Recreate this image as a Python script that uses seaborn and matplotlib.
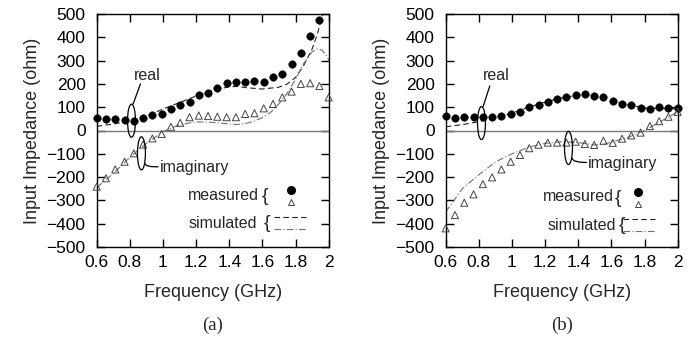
import numpy as np
import pandas as pd
import matplotlib
matplotlib.use("Agg")
import matplotlib.pyplot as plt
from matplotlib.patches import Ellipse
import seaborn as sns

# ---------------- data ----------------
freq_meas = [0.6 + 0.056 * i for i in range(26)]

# panel (a)
a_real_meas = [52, 48, 48, 45, 42, 52, 66, 71, 91, 109, 124, 152, 162, 181, 205,
               209, 209, 212, 209, 230, 244, 287, 333, 405, 474]
a_imag_meas = [-241, -205, -167, -134, -98, -60, -34, -15, 16, 33, 57, 64, 62, 59,
               57, 57, 71, 74, 95, 114, 142, 167, 200, 203, 191, 142]
a_real_sim_f = [0.6, 0.7, 0.8, 0.9, 1.0, 1.1, 1.2, 1.3, 1.4, 1.45, 1.5, 1.6, 1.7,
                1.75, 1.8, 1.85, 1.9, 1.93, 1.96, 1.975]
a_real_sim = [18, 28, 40, 62, 92, 120, 148, 172, 188, 189, 184, 178, 186, 200,
              228, 280, 350, 410, 490, 530]
a_imag_sim_f = [0.6, 0.7, 0.8, 0.9, 1.0, 1.1, 1.2, 1.3, 1.4, 1.45, 1.5, 1.55, 1.6,
                1.65, 1.7, 1.75, 1.8, 1.85, 1.9, 1.93, 1.96, 1.99, 2.0]
a_imag_sim = [-245, -185, -115, -55, -5, 25, 37, 35, 28, 26, 30, 40, 55, 78, 115,
              160, 220, 288, 338, 350, 345, 318, 302]

# panel (b)
b_real_meas = [62, 52, 59, 57, 57, 59, 62, 71, 81, 100, 109, 124, 134, 145, 151,
               155, 148, 144, 125, 115, 110, 96, 93, 101, 97, 95]
b_imag_meas = [-420, -363, -310, -274, -230, -201, -167, -134, -105, -76, -61, -52,
               -52, -52, -48, -58, -62, -44, -53, -35, -21, -9, 19, 40, 59, 80]
b_real_sim_f = [0.6, 0.7, 0.8, 0.9, 1.0, 1.1, 1.2, 1.3, 1.4, 1.45, 1.5, 1.6, 1.7,
                1.8, 1.9, 2.0]
b_real_sim = [16, 25, 38, 55, 75, 100, 122, 140, 152, 153, 148, 128, 110, 97, 94, 93]
b_imag_sim_f = [0.6, 0.7, 0.8, 0.9, 1.0, 1.1, 1.2, 1.3, 1.4, 1.5, 1.55, 1.6, 1.7,
                1.8, 1.9, 2.0]
b_imag_sim = [-350, -250, -190, -135, -100, -72, -55, -48, -52, -62, -60, -50, -30,
              0, 40, 80]

x_ticks = [0.6, 0.8, 1.0, 1.2, 1.4, 1.6, 1.8, 2.0]
x_ticklabels = ["0.6", "0.8", "1", "1.2", "1.4", "1.6", "1.8", "2"]
y_ticks = list(range(-500, 501, 100))

# ---------------- style ----------------
sns.set_style("ticks")
plt.rcParams["font.family"] = ["Liberation Sans", "DejaVu Sans"]

fig = plt.figure(figsize=(7, 3.41), dpi=100)
W, H = 700.0, 341.0
ax1 = fig.add_axes([96.7 / W, 1 - 247 / H, 232 / W, 233 / H])
ax2 = fig.add_axes([445.7 / W, 1 - 247 / H, 232 / W, 233 / H])

DASH = (0, (5, 3))
DASHDOT = (0, (6, 2, 1, 2))
ANN = 11.5


def draw(ax, real_meas, imag_meas, rs_f, rs, is_f, is_, annot, caption):
    ax.axhline(0, color="#7a7a7a", lw=1.0, zorder=1)
    sns.lineplot(x=rs_f, y=rs, ax=ax, color="#222222", lw=0.8, linestyle=DASH,
                 sort=False, zorder=2)
    sns.lineplot(x=is_f, y=is_, ax=ax, color="#707070", lw=0.8, linestyle=DASHDOT,
                 sort=False, zorder=2)
    sns.scatterplot(x=freq_meas[:len(real_meas)], y=real_meas, ax=ax, marker="o",
                    s=30, color="black", edgecolor="black", linewidth=0.3,
                    zorder=3, clip_on=False)
    sns.scatterplot(x=freq_meas[:len(imag_meas)], y=imag_meas, ax=ax, marker="^",
                    s=26, facecolor="none", edgecolor="#444444", linewidth=0.7,
                    zorder=3, clip_on=False)

    ax.set_xlim(0.6, 2.0)
    ax.set_ylim(-500, 500)
    ax.set_xticks(x_ticks)
    ax.set_xticklabels(x_ticklabels)
    ax.set_yticks(y_ticks)
    ax.tick_params(direction="in", length=6, width=1.0, top=True, right=True,
                   labelsize=12.5, colors="black")
    ax.tick_params(axis="y", pad=8)
    ax.tick_params(axis="x", pad=6)
    for s in ax.spines.values():
        s.set_visible(True)
        s.set_linewidth(1.0)
        s.set_color("black")
    ax.set_xlabel("Frequency (GHz)", fontsize=13, labelpad=10)
    ax.set_ylabel("Input Impedance (ohm)", fontsize=13, labelpad=4)

    # annotations
    (re_c, re_line, re_txt, im_c, im_line, im_txt, leg) = annot
    ax.add_patch(Ellipse(re_c, 0.048, 142, fill=False, lw=0.9, color="black",
                         zorder=4))
    ax.plot(*re_line, color="black", lw=0.9)
    ax.text(re_txt[0], re_txt[1], "real", fontsize=ANN, ha="center",
            va="center")
    ax.add_patch(Ellipse(im_c, 0.048, 142, fill=False, lw=0.9, color="black",
                         zorder=4))
    ax.plot(*im_line, color="black", lw=0.9)
    ax.text(im_txt[0], im_txt[1], "imaginary", fontsize=ANN, ha="left",
            va="center")

    mx, my, bx, dx, sx, sy, sbx, lx0, lx1 = leg
    ax.text(mx, my, "measured", fontsize=ANN, ha="right", va="center")
    ax.text(bx, my - 6, "{", fontsize=14, ha="center", va="center")
    ax.plot([dx], [my + 22], marker="o", color="black", ms=5.5)
    ax.plot([dx], [my - 30], marker="^", mfc="none", mec="#444444", ms=5,
            mew=0.7)
    ax.text(sx, sy, "simulated", fontsize=ANN, ha="right", va="center")
    ax.text(sbx, sy, "{", fontsize=14, ha="center", va="center")
    ax.plot([lx0, lx1], [sy + 26, sy + 26], color="#222222", lw=0.8,
            linestyle=DASH)
    ax.plot([lx0, lx1], [sy - 26, sy - 26], color="#707070", lw=0.8,
            linestyle=DASHDOT)

    ax.text(0.5, -0.335, caption, transform=ax.transAxes, ha="center",
            va="center", fontsize=13.5, family=["Liberation Serif"])


annot_a = ((0.81, 42), ([0.82, 0.864], [114, 200]), (0.905, 238),
           (0.87, -98), ([0.888, 0.9, 0.93, 0.97], [-140, -150, -155, -156]),
           (0.98, -160),
           (1.58, -277, 1.616, 1.772, 1.568, -397, 1.63, 1.67, 1.862))
annot_b = ((0.816, 32), ([0.826, 0.866], [103, 191]), (0.905, 238),
           (1.341, -75), ([1.36, 1.375, 1.41, 1.45], [-118, -130, -136, -137]),
           (1.455, -143),
           (1.617, -285, 1.638, 1.762, 1.63, -406, 1.666, 1.67, 1.86))

draw(ax1, a_real_meas, a_imag_meas, a_real_sim_f, a_real_sim, a_imag_sim_f,
     a_imag_sim, annot_a, "(a)")
draw(ax2, b_real_meas, b_imag_meas, b_real_sim_f, b_real_sim, b_imag_sim_f,
     b_imag_sim, annot_b, "(b)")

fig.savefig("out.png", dpi=100)
